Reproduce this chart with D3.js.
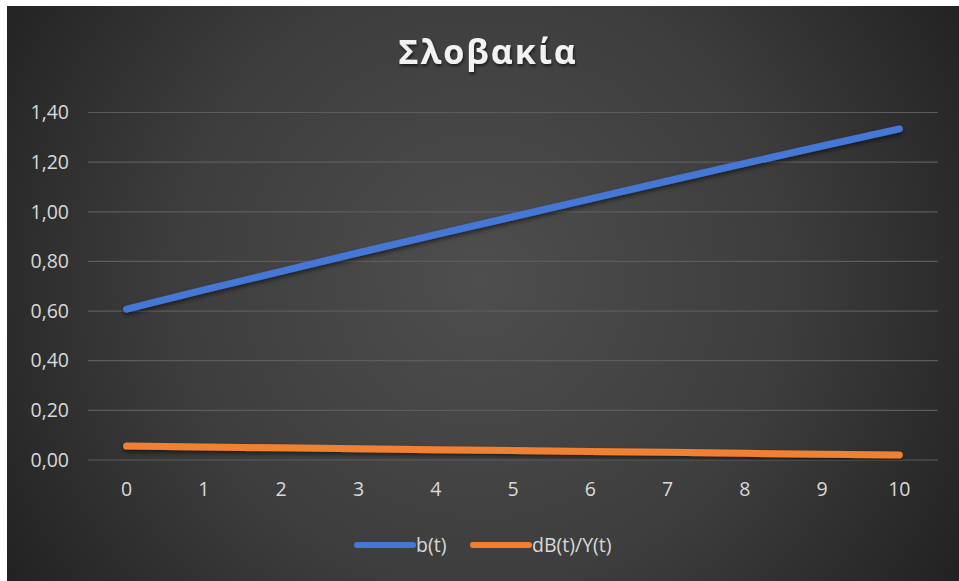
<!DOCTYPE html>
<html>
<head>
<meta charset="utf-8">
<script src="https://cdn.jsdelivr.net/npm/d3@7/dist/d3.min.js"></script>
<style>
  html, body { margin: 0; padding: 0; background: #ffffff; }
  svg { display: block; }
</style>
</head>
<body>
<svg id="chart" width="959" height="581"></svg>
<script>
// Data
const title = "Σλοβακία";
const periods = [0, 1, 2, 3, 4, 5, 6, 7, 8, 9, 10];
const bValues = [0.608, 0.685, 0.760, 0.835, 0.908, 0.980, 1.052, 1.124, 1.195, 1.265, 1.334];
const dBYValues = [0.056, 0.052, 0.049, 0.045, 0.041, 0.038, 0.034, 0.031, 0.027, 0.023, 0.020];
const yTicks = [0, 0.2, 0.4, 0.6, 0.8, 1.0, 1.2, 1.4];
const seriesNames = ["b(t)", "dB(t)/Y(t)"];
const seriesColors = ["#4477d6", "#f08030"];

const svg = d3.select("#chart");
const W = 959, H = 581;
const frame = { x: 7, y: 6 };
const plot = { left: 88, right: 938, top: 112.5, bottom: 460 };
const labelFont = "'Open Sans', 'Noto Sans', sans-serif";

const defs = svg.append("defs");
const grad = defs.append("radialGradient")
  .attr("id", "bg").attr("gradientUnits", "userSpaceOnUse")
  .attr("cx", 480).attr("cy", 280).attr("r", 560);
grad.append("stop").attr("offset", "0%").attr("stop-color", "#4e4e4e");
grad.append("stop").attr("offset", "55%").attr("stop-color", "#3d3d3d");
grad.append("stop").attr("offset", "100%").attr("stop-color", "#222222");

const shadow = defs.append("filter").attr("id", "shadow")
  .attr("x", "-10%").attr("y", "-50%").attr("width", "120%").attr("height", "200%");
shadow.append("feDropShadow").attr("dx", 0).attr("dy", 2.5)
  .attr("stdDeviation", 2).attr("flood-color", "#000").attr("flood-opacity", 0.55);

const tshadow = defs.append("filter").attr("id", "tshadow")
  .attr("x", "-10%").attr("y", "-30%").attr("width", "120%").attr("height", "160%");
tshadow.append("feDropShadow").attr("dx", 1).attr("dy", 2)
  .attr("stdDeviation", 1.5).attr("flood-color", "#000").attr("flood-opacity", 0.6);

svg.append("rect")
  .attr("x", frame.x).attr("y", frame.y)
  .attr("width", W - frame.x).attr("height", H - frame.y)
  .attr("fill", "url(#bg)");

const x = d3.scaleBand().domain(periods).range([plot.left, plot.right]);
const y = d3.scaleLinear().domain([0, 1.4]).range([plot.bottom, plot.top]);

const fmt = v => d3.format(".2f")(v).replace(".", ",");

// Grid lines
svg.append("g")
  .selectAll("line").data(yTicks).join("line")
  .attr("x1", plot.left).attr("x2", plot.right)
  .attr("y1", d => y(d)).attr("y2", d => y(d))
  .attr("stroke", "#5c5c5c").attr("stroke-width", 1.2);

// Y axis
const yAxis = svg.append("g")
  .attr("transform", `translate(${plot.left - 19},0)`)
  .call(d3.axisLeft(y).tickValues(yTicks).tickFormat(fmt).tickSize(0).tickPadding(0));
yAxis.select(".domain").remove();
yAxis.selectAll("text")
  .attr("fill", "#d9d9d9")
  .style("font-family", labelFont)
  .style("font-size", "19.5px");

// X axis
const xAxis = svg.append("g")
  .attr("transform", `translate(0,${y(0)})`)
  .call(d3.axisBottom(x).tickSize(0).tickPadding(22));
xAxis.select(".domain").remove();
xAxis.selectAll("text")
  .attr("fill", "#d9d9d9")
  .style("font-family", labelFont)
  .style("font-size", "19.5px");

// Series lines
const line = d3.line()
  .x((d, i) => x(periods[i]) + x.bandwidth() / 2)
  .y(d => y(d));

[bValues, dBYValues].forEach((vals, k) => {
  svg.append("path")
    .datum(vals)
    .attr("d", line)
    .attr("fill", "none")
    .attr("stroke", seriesColors[k])
    .attr("stroke-width", 7)
    .attr("stroke-linecap", "round")
    .attr("stroke-linejoin", "round")
    .attr("filter", "url(#shadow)");
});

// Title
svg.append("text")
  .attr("x", 488).attr("y", 64)
  .attr("text-anchor", "middle")
  .attr("fill", "#f2f2f2")
  .attr("filter", "url(#tshadow)")
  .style("font-family", labelFont)
  .style("font-weight", "bold")
  .style("font-size", "34px")
  .style("letter-spacing", "2px")
  .text(title);

// Legend
const legend = svg.append("g");
const legendItems = [
  { name: seriesNames[0], color: seriesColors[0], x0: 357 },
  { name: seriesNames[1], color: seriesColors[1], x0: 473 }
];
legendItems.forEach(it => {
  legend.append("line")
    .attr("x1", it.x0).attr("x2", it.x0 + 56)
    .attr("y1", 545).attr("y2", 545)
    .attr("stroke", it.color).attr("stroke-width", 6)
    .attr("stroke-linecap", "round");
  legend.append("text")
    .attr("x", it.x0 + 59).attr("y", 552)
    .attr("fill", "#d9d9d9")
    .style("font-family", labelFont)
    .style("font-size", "19.5px")
    .text(it.name);
});
</script>
</body>
</html>
